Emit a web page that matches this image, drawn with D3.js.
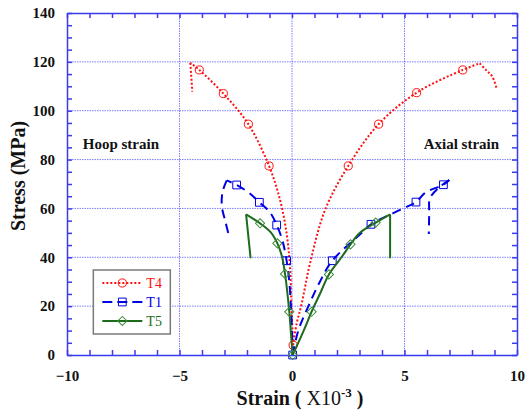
<!DOCTYPE html>
<html>
<head>
<meta charset="utf-8">
<script src="https://cdn.jsdelivr.net/npm/d3@7"></script>
<style>
  body { margin: 0; background: #fff; }
  svg { display: block; }
</style>
</head>
<body>
<svg id="chart" width="525" height="414"></svg>
<script>
// strain (x10^-3), stress (MPa)
// each test: loading branch up to the peak, then the post-peak branch
const t4Axial = [[0.05, 4], [0.21, 13], [0.43, 21], [0.8, 37.5], [1.47, 59.4], [2.5, 77.4],
  [3.85, 94.5], [5.54, 107.4], [7.59, 116.7], [8.34, 119.4]];
const t4AxialPost = [[8.34, 119.4], [8.65, 116.4], [8.9, 114], [9.1, 109]];
const t4Hoop = [[0.05, 4], [-0.02, 18.4], [-0.09, 36.1], [-0.24, 49.8], [-0.53, 63.4], [-1.02, 77.4],
  [-1.94, 94.5], [-3.05, 107], [-4.12, 116.7], [-4.52, 119.6]];
const t4HoopPost = [[-4.52, 119.6], [-4.43, 107.8]];
const t4Marks = [[0.05, 4], [2.5, 77.4], [3.85, 94.5], [5.54, 107.4], [7.59, 116.7],
  [-1.02, 77.4], [-1.94, 94.5], [-3.05, 107], [-4.12, 116.7]];

const t1Axial = [[0.03, 0], [0.28, 10], [0.73, 20], [1.24, 30], [1.79, 38.6], [3.1, 50], [3.51, 53.5],
  [4.95, 60], [5.51, 62.6], [5.95, 66.6], [6.73, 69.7], [6.99, 71.6]];
const t1AxialPost = [[6.99, 71.6], [6.58, 68.9], [6.13, 64.1], [6.1, 58], [6.08, 49.5]];
const t1Hoop = [[0.03, 0], [0.0, 10], [-0.05, 20], [-0.12, 30], [-0.24, 38.6], [-0.42, 46.7],
  [-0.68, 53.2], [-0.98, 58.4], [-1.45, 62.5], [-1.9, 66.3], [-2.46, 69.6], [-2.9, 71.5]];
const t1HoopPost = [[-2.9, 71.5], [-3.08, 67], [-3.12, 61], [-2.97, 55], [-2.83, 49.8]];
const t1Marks = [[0.03, 0], [1.79, 38.6], [3.51, 53.5], [5.51, 62.6], [6.73, 69.7],
  [-0.24, 38.6], [-0.68, 53.2], [-1.45, 62.5], [-2.46, 69.6]];

const t5Axial = [[0.03, 0], [0.52, 10], [0.87, 17.7], [1.29, 26], [1.64, 33], [2.2, 40],
  [2.6, 45.3], [3.02, 50], [3.72, 54.2], [4.36, 57.6]];
const t5AxialPost = [[4.36, 57.6], [4.36, 39.6]];
const t5Hoop = [[0.03, 0], [-0.04, 8], [-0.12, 17.7], [-0.31, 33.2], [-0.45, 40.5], [-0.65, 45.7],
  [-0.95, 50.3], [-1.42, 53.9], [-2.04, 57.6]];
const t5HoopPost = [[-2.04, 57.6], [-1.84, 39.6]];
const t5Marks = [[0.03, 0], [0.87, 17.7], [1.64, 33], [2.6, 45.3], [3.72, 54.2],
  [-0.12, 17.7], [-0.31, 33.2], [-0.65, 45.7], [-1.42, 53.9]];

const xTicks = [-10, -5, 0, 5, 10];
const yTicks = [0, 20, 40, 60, 80, 100, 120, 140];
const legendNames = ["T4", "T1", "T5"];

const axisColor = "#3b3bee";
const gridColor = "#7d7dff";
const font = "'Liberation Serif', 'Times New Roman', serif";

const svg = d3.select("#chart");
const margin = { left: 67, top: 13, right: 8, bottom: 59 };
const width = 525 - margin.left - margin.right;
const height = 414 - margin.top - margin.bottom;

const x = d3.scaleLinear().domain([-10, 10]).range([0, width]);
const y = d3.scaleLinear().domain([0, 140]).range([height, 0]);

const g = svg.append("g").attr("transform", `translate(${margin.left},${margin.top})`);

// grid
g.selectAll(".vgrid")
  .data(xTicks.filter((d) => d > -10 && d < 10))
  .enter()
  .append("line")
  .attr("x1", (d) => x(d)).attr("x2", (d) => x(d))
  .attr("y1", 0).attr("y2", height)
  .style("stroke", gridColor).style("stroke-width", 1).style("stroke-dasharray", "1.5,1");
g.selectAll(".hgrid")
  .data(yTicks.filter((d) => d > 0 && d < 140))
  .enter()
  .append("line")
  .attr("x1", 0).attr("x2", width)
  .attr("y1", (d) => y(d)).attr("y2", (d) => y(d))
  .style("stroke", gridColor).style("stroke-width", 1).style("stroke-dasharray", "1.5,1");

// axes
const styleAxis = (sel) => {
  sel.selectAll("path, line").style("stroke", axisColor).style("stroke-width", 1.5);
  sel.selectAll("text")
    .style("font-family", font).style("font-size", "15px")
    .style("font-weight", "bold").style("fill", "#111");
};

g.append("g").attr("transform", `translate(0,${height})`)
  .call(d3.axisBottom(x).tickValues(d3.range(-10, 11, 1)).tickSize(-5).tickSizeOuter(0).tickFormat(""))
  .call(styleAxis);
g.append("g").attr("transform", `translate(0,${height})`)
  .call(d3.axisBottom(x).tickValues(xTicks).tickSize(0).tickPadding(15).tickFormat(d3.format("d")))
  .call(styleAxis)
  .call((a) => a.select(".domain").remove());
g.append("g")
  .call(d3.axisTop(x).tickValues(d3.range(-10, 11, 1)).tickSize(-5).tickSizeOuter(0).tickFormat(""))
  .call(styleAxis);

g.append("g")
  .call(d3.axisLeft(y).tickValues(d3.range(0, 141, 5)).tickSize(-5).tickSizeOuter(0).tickFormat(""))
  .call(styleAxis);
g.append("g")
  .call(d3.axisLeft(y).tickValues(yTicks).tickSize(0).tickPadding(12).tickFormat(d3.format("d")))
  .call(styleAxis)
  .call((a) => a.select(".domain").remove());
g.append("g").attr("transform", `translate(${width},0)`)
  .call(d3.axisRight(y).tickValues(d3.range(0, 141, 5)).tickSize(-5).tickSizeOuter(0).tickFormat(""))
  .call(styleAxis);

// curves
const line = d3.line()
  .x((d) => x(d[0]))
  .y((d) => y(d[1]))
  .curve(d3.curveCatmullRom.alpha(0.5));

const series = [
  { name: "T4", color: "#ff1010", dash: "2,2", width: 2,
    curves: [t4Axial, t4AxialPost, t4Hoop, t4HoopPost], marks: t4Marks, shape: "circle" },
  { name: "T1", color: "#0000e6", dash: "9,6", width: 2,
    curves: [t1Axial, t1AxialPost, t1Hoop, t1HoopPost], marks: t1Marks, shape: "square" },
  { name: "T5", color: "#1d6b1d", dash: null, width: 2,
    curves: [t5Axial, t5AxialPost, t5Hoop, t5HoopPost], marks: t5Marks, shape: "diamond" },
];

const symbolFor = (shape) => {
  if (shape === "circle") return d3.symbol().type(d3.symbolCircle).size(52)();
  return d3.symbol().type(d3.symbolSquare).size(shape === "diamond" ? 42 : 60)();
};

const drawMarker = (sel, s, px, py) => {
  sel.append("path")
    .attr("d", symbolFor(s.shape))
    .attr("transform", `translate(${px},${py})` + (s.shape === "diamond" ? " rotate(45)" : ""))
    .style("fill", "none")
    .style("stroke", s.shape === "diamond" ? "#3c8c3c" : s.color)
    .style("stroke-width", 1);
};

series.forEach((s) => {
  s.curves.forEach((c) => {
    g.append("path")
      .datum(c)
      .attr("d", line)
      .style("fill", "none")
      .style("stroke", s.color)
      .style("stroke-width", s.width)
      .style("stroke-dasharray", s.dash);
  });
  s.marks.forEach((m) => drawMarker(g, s, x(m[0]), y(m[1])));
});

// annotations
g.append("text").attr("x", x(-9.3)).attr("y", y(84.5))
  .text("Hoop strain")
  .style("font-family", font).style("font-size", "15px").style("font-weight", "bold").style("fill", "#111");
g.append("text").attr("x", x(5.85)).attr("y", y(84.5))
  .text("Axial strain")
  .style("font-family", font).style("font-size", "15px").style("font-weight", "bold").style("fill", "#111");

// legend
const legend = g.append("g").attr("transform", `translate(${x(-8.83)},${y(34.8)})`);
legend.append("rect")
  .attr("width", 77).attr("height", 64)
  .style("fill", "#fff").style("stroke", "#7a7a7a").style("stroke-width", 1.5);
series.forEach((s, i) => {
  const ly = 13 + i * 19;
  legend.append("line")
    .attr("x1", 9).attr("x2", 49).attr("y1", ly).attr("y2", ly)
    .style("stroke", s.color).style("stroke-width", s.width)
    .style("stroke-dasharray", s.dash ? (s.name === "T1" ? "10,5" : s.dash) : null);
  drawMarker(legend, s, 29, ly);
  legend.append("text")
    .attr("x", 53).attr("y", ly + 5)
    .text(legendNames[i])
    .style("font-family", font).style("font-size", "14px").style("fill", s.color);
});

// axis titles
svg.append("text")
  .attr("transform", `translate(25,${margin.top + height / 2 - 8}) rotate(-90)`)
  .attr("text-anchor", "middle")
  .text("Stress (MPa)")
  .style("font-family", font).style("font-size", "20px").style("font-weight", "bold").style("fill", "#111");

const xt = svg.append("text")
  .attr("x", margin.left + x(0) + 8).attr("y", 405)
  .attr("text-anchor", "middle")
  .style("font-family", font).style("font-size", "20px").style("font-weight", "bold").style("fill", "#111");
xt.append("tspan").text("Strain ( ");
xt.append("tspan").text("X10").style("font-weight", "normal");
xt.append("tspan").text("-3").attr("dy", -8).style("font-size", "13px");
xt.append("tspan").text(" )").attr("dy", 8);
</script>
</body>
</html>
